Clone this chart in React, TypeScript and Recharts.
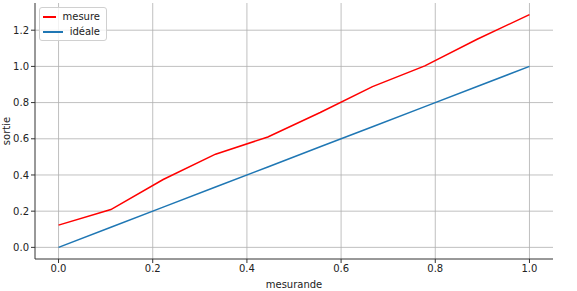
import { LineChart, Line, XAxis, YAxis, CartesianGrid } from 'recharts';

const mesurande = [0, 0.1111, 0.2222, 0.3333, 0.4444, 0.5556, 0.6667, 0.7778, 0.8889, 1.0];
const mesure = [0.123, 0.209, 0.375, 0.515, 0.61, 0.745, 0.888, 1.003, 1.15, 1.286];
const ideale = [0, 0.1111, 0.2222, 0.3333, 0.4444, 0.5556, 0.6667, 0.7778, 0.8889, 1.0];
const xTicks = [0, 0.2, 0.4, 0.6, 0.8, 1.0];
const yTicks = [0, 0.2, 0.4, 0.6, 0.8, 1.0, 1.2];

const data = mesurande.map((x, i) => ({ x, mesure: mesure[i], ideale: ideale[i] }));

const font = 'DejaVu Sans, sans-serif';

const legendItems = [
  { name: 'mesure', color: '#ff0000' },
  { name: 'idéale', color: '#1f77b4' },
];

function LegendBox() {
  return (
    <div
      style={{
        position: 'absolute',
        left: 39,
        top: 7,
        border: '1px solid #d0d0d0',
        borderRadius: 3,
        background: 'rgba(255,255,255,0.8)',
        padding: '1px 6px 1px 3px',
        fontFamily: font,
        fontSize: 10,
        color: '#222',
        width: 57,
      }}
    >
      {legendItems.map((it) => (
        <div key={it.name} style={{ display: 'flex', alignItems: 'center', height: 15 }}>
          <span style={{ display: 'inline-block', width: 20, height: 2, background: it.color, marginRight: 7 }} />
          <span>{it.name}</span>
        </div>
      ))}
    </div>
  );
}

export default function App() {
  return (
    <div style={{ position: 'absolute', left: 0, top: 0, width: 577, height: 291, background: '#fff' }}>
      <LineChart width={577} height={291} data={data} margin={{ top: 3, right: 24, bottom: 0, left: 0 }}>
        <CartesianGrid stroke="#b0b0b0" strokeWidth={0.8} horizontalValues={yTicks} verticalValues={xTicks} />
        <XAxis
          dataKey="x"
          type="number"
          domain={[-0.05, 1.05]}
          ticks={xTicks}
          allowDataOverflow
          tickFormatter={(v: number) => v.toFixed(1)}
          height={32}
          tickSize={4}
          stroke="#333"
          tick={{ fill: '#222', fontSize: 10, fontFamily: font }}
          label={{ value: 'mesurande', position: 'insideBottom', offset: 3, style: { fill: '#222', fontSize: 10, fontFamily: font } }}
        />
        <YAxis
          type="number"
          domain={[-0.0643, 1.3503]}
          ticks={yTicks}
          allowDataOverflow
          tickFormatter={(v: number) => v.toFixed(1)}
          width={35}
          tickSize={4}
          stroke="#333"
          tick={{ fill: '#222', fontSize: 10, fontFamily: font }}
          label={{ value: 'sortie', angle: -90, position: 'insideLeft', offset: 6, style: { textAnchor: 'middle', fill: '#222', fontSize: 10, fontFamily: font } }}
        />
        <Line type="linear" dataKey="mesure" name="mesure" stroke="#ff0000" strokeWidth={1.5} dot={false} isAnimationActive={false} />
        <Line type="linear" dataKey="ideale" name="idéale" stroke="#1f77b4" strokeWidth={1.5} dot={false} isAnimationActive={false} />
      </LineChart>
      <LegendBox />
    </div>
  );
}
